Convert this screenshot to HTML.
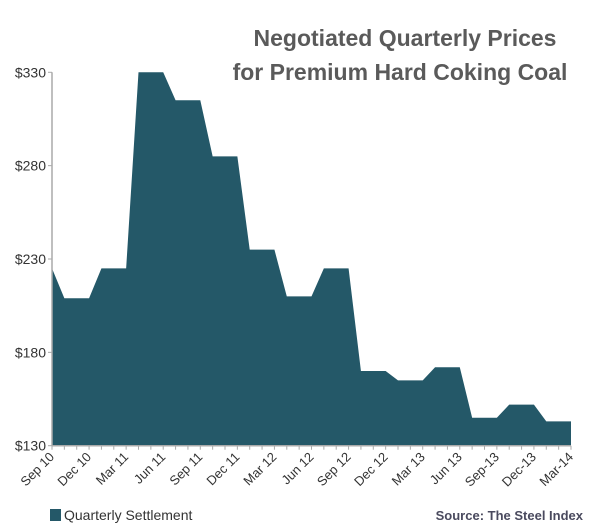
<!DOCTYPE html>
<html><head><meta charset="utf-8"><style>
body{margin:0;background:#fff;width:600px;height:529px;overflow:hidden}
svg{display:block;font-family:"Liberation Sans",Arial,sans-serif}
</style></head><body>
<svg id="chart" width="600" height="529">
<text x="405" y="46" text-anchor="middle" font-size="23" font-weight="bold" fill="#5a5a5a">Negotiated Quarterly Prices</text>
<text x="400" y="80" text-anchor="middle" font-size="23" font-weight="bold" fill="#5a5a5a">for Premium Hard Coking Coal</text>
<g id="plot"></g>
<rect x="50" y="509" width="11" height="12" fill="#245868"/>
<text x="64" y="520" font-size="14" fill="#333">Quarterly Settlement</text>
<text x="583" y="520" text-anchor="end" font-size="13" font-weight="bold" fill="#4a4a5e">Source: The Steel Index</text>
</svg>
<script>
const monthlyPrices=[225,209,209,209,225,225,225,330,330,330,315,315,315,285,285,285,235,235,235,210,210,210,225,225,225,170,170,170,165,165,165,172,172,172,145,145,145,152,152,152,143,143,143];
const xLabels=["Sep 10","Dec 10","Mar 11","Jun 11","Sep 11","Dec 11","Mar 12","Jun 12","Sep 12","Dec 12","Mar 13","Jun 13","Sep-13","Dec-13","Mar-14"];
const yTicks=[130,180,230,280,330];
const yTickLabels=["$130","$180","$230","$280","$330"];
const NS="http://www.w3.org/2000/svg";
const g=document.getElementById('plot');
const x0=52,x1=571,yTop=72.3,yBot=445.7,vMin=130,vMax=330;
const xs=i=>x0+(x1-x0)*i/(monthlyPrices.length-1);
const ys=v=>yBot-(v-vMin)/(vMax-vMin)*(yBot-yTop);
function mk(tag,attrs){const e=document.createElementNS(NS,tag);for(const k in attrs)e.setAttribute(k,attrs[k]);g.appendChild(e);return e;}
let d=`M${xs(0)},${ys(vMin)}`;
monthlyPrices.forEach((v,i)=>{d+=` L${xs(i)},${ys(v)}`;});
d+=` L${xs(monthlyPrices.length-1)},${ys(vMin)} Z`;
const area=mk('path',{d:d,fill:'#245868'});


const ya=mk('line',{x1:x0,y1:yTop,x2:x0,y2:yBot,stroke:'#aaa','stroke-width':1.5});


const xa=mk('line',{x1:x0,y1:yBot,x2:x1,y2:yBot,stroke:'#aaa','stroke-width':1.5});


yTicks.forEach((v,i)=>{
  mk('line',{x1:x0-4,y1:ys(v),x2:x0,y2:ys(v),stroke:'#aaa'});
  const t=mk('text',{x:x0-6,y:ys(v)+5,'text-anchor':'end','font-size':14,fill:'#333'});
  t.textContent=yTickLabels[i];
  
  
});
monthlyPrices.forEach((v,i)=>{mk('line',{x1:xs(i),y1:yBot,x2:xs(i),y2:yBot+4,stroke:'#aaa'});});
xLabels.forEach((lab,j)=>{
  const x=xs(j*3)+3,y=yBot+12;
  const t=mk('text',{x:x,y:y,'text-anchor':'end','font-size':13,fill:'#333',transform:`rotate(-45 ${x} ${y})`});
  t.textContent=lab;
  
  
});
</script>
</body></html>
